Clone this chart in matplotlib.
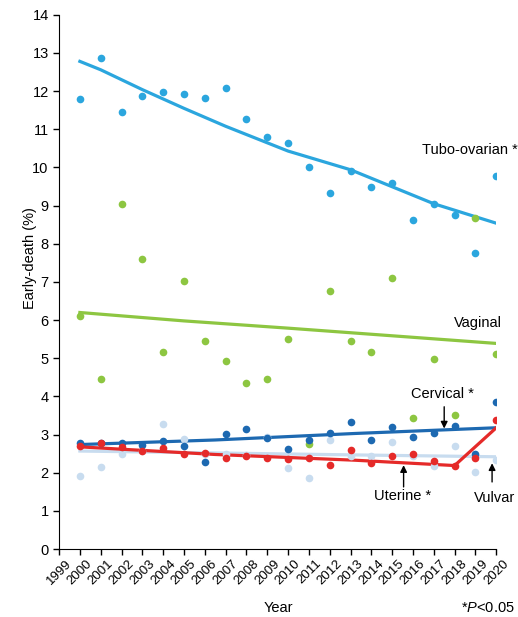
import numpy as np
import matplotlib
matplotlib.use("Agg")
import matplotlib.pyplot as plt

plt.rcParams['font.family'] = ['Liberation Sans', 'DejaVu Sans']
plt.rcParams['mathtext.fontset'] = 'custom'
plt.rcParams['mathtext.rm'] = 'Liberation Sans'
plt.rcParams['mathtext.it'] = 'Liberation Sans:italic'

years = list(range(2000, 2021))
tick_years = list(range(1999, 2021))

# observed early-death (%) per year
tubo = [11.79, 12.88, 11.46, 11.86, 11.99, 11.93, 11.81, 12.09, 11.27, 10.80, 10.65,
        10.02, 9.33, 9.91, 9.50, 9.59, 8.62, 9.05, 8.76, 7.75, 9.77]
vaginal = [6.11, 4.47, 9.05, 7.60, 5.16, 7.03, 5.46, 4.94, 4.36, 4.46, 5.50,
           2.75, 6.76, 5.45, 5.16, 7.11, 3.44, 4.99, 3.52, 8.67, 5.11]
cervical = [2.77, 2.79, 2.77, 2.73, 2.84, 2.70, 2.28, 3.01, 3.16, 2.90, 2.63,
            2.86, 3.03, 3.32, 2.86, 3.19, 2.93, 3.03, 3.23, 2.48, 3.86]
uterine = [2.71, 2.77, 2.67, 2.56, 2.64, 2.49, 2.52, 2.40, 2.45, 2.38, 2.36,
           2.38, 2.20, 2.59, 2.25, 2.45, 2.49, 2.31, 2.18, 2.39, 3.38]
vulvar = [1.92, 2.16, 2.50, 2.58, 3.28, 2.88, 2.50, 2.48, 2.46, 2.93, 2.12,
          1.87, 2.86, 2.45, 2.44, 2.80, 2.43, 2.18, 2.71, 2.03, 2.33]

# fitted trend lines (joinpoint)
tubo_fit_x = [2000, 2001, 2003, 2005, 2007, 2010, 2013, 2017, 2020]
tubo_fit = [12.78, 12.56, 12.04, 11.55, 11.08, 10.43, 9.94, 9.05, 8.54]
vag_fit_x = [2000, 2005, 2010, 2020]
vag_fit = [6.20, 5.98, 5.79, 5.39]
cerv_fit_x = [2000, 2006.5, 2013.2, 2020]
cerv_fit = [2.74, 2.86, 3.03, 3.18]
ut_fit_x = [2000, 2006.5, 2013.2, 2018, 2020]
ut_fit = [2.68, 2.48, 2.33, 2.19, 3.18]
vul_fit_x = [2000, 2013, 2020]
vul_fit = [2.57, 2.47, 2.42]

c_tubo = '#2BA6DE'
c_vag = '#8DC641'
c_cerv = '#1D69B1'
c_ut = '#E52A29'
c_vul = '#C8DCEF'

fig = plt.figure(figsize=(5.18, 6.17), dpi=100)
ax = fig.add_axes([0.114, 0.110, 0.844, 0.866])

lw = 2.3
ax.plot(vul_fit_x, vul_fit, color=c_vul, lw=lw, zorder=2)
ax.plot(tubo_fit_x, tubo_fit, color=c_tubo, lw=lw, zorder=2)
ax.plot(vag_fit_x, vag_fit, color=c_vag, lw=lw, zorder=2)
ax.plot(cerv_fit_x, cerv_fit, color=c_cerv, lw=lw, zorder=3)
ax.plot(ut_fit_x, ut_fit, color=c_ut, lw=lw, zorder=3)

ms = 5.5
ax.plot(years, vaginal, 'o', color=c_vag, ms=ms, mec='none', zorder=4)
ax.plot(years, tubo, 'o', color=c_tubo, ms=ms, mec='none', zorder=4)
ax.plot(years, vulvar, 'o', color=c_vul, ms=ms, mec='none', zorder=4)
ax.plot(years, cervical, 'o', color=c_cerv, ms=ms, mec='none', zorder=5)
ax.plot(years, uterine, 'o', color=c_ut, ms=ms, mec='none', zorder=6)

ax.set_xlim(1999, 2020)
ax.set_ylim(0, 14)
ax.set_xticks(tick_years)
ax.set_xticklabels([str(y) for y in tick_years], rotation=45, ha='center',
                   fontsize=9.5)
ax.set_yticks(range(0, 15))
ax.tick_params(axis='y', labelsize=10.5, length=4, width=1)
ax.tick_params(axis='x', length=4, width=1, pad=2)
ax.spines['top'].set_visible(False)
ax.spines['right'].set_visible(False)
ax.set_ylabel('Early-death (%)', fontsize=10.5)
ax.yaxis.set_label_coords(-0.05, 0.545)

fs = 10.5
ax.text(2016.45, 10.46, 'Tubo-ovarian *', fontsize=fs, ha='left', va='center', clip_on=False)
ax.text(2019.1, 5.93, 'Vaginal', fontsize=fs, ha='center', va='center')
ax.text(2017.4, 4.06, 'Cervical *', fontsize=fs, ha='center', va='center')
ax.text(2015.5, 1.39, 'Uterine *', fontsize=fs, ha='center', va='center')
ax.text(2019.9, 1.34, 'Vulvar', fontsize=fs, ha='center', va='center', clip_on=False)

arrow = dict(arrowstyle='-|>', color='black', lw=1, mutation_scale=10, shrinkA=0, shrinkB=0)
ax.annotate('', xy=(2017.5, 3.16), xytext=(2017.5, 3.73), arrowprops=arrow)
ax.annotate('', xy=(2015.55, 2.20), xytext=(2015.55, 1.63), arrowprops=arrow)
ax.annotate('', xy=(2019.8, 2.25), xytext=(2019.8, 1.76), arrowprops=arrow)

fig.text(0.537, 0.0145, 'Year', fontsize=10.5, ha='center', va='center')
fig.text(0.993, 0.0145, '*$P$<0.05', fontsize=10.5, ha='right', va='center')

fig.savefig('out.png', dpi=100)
